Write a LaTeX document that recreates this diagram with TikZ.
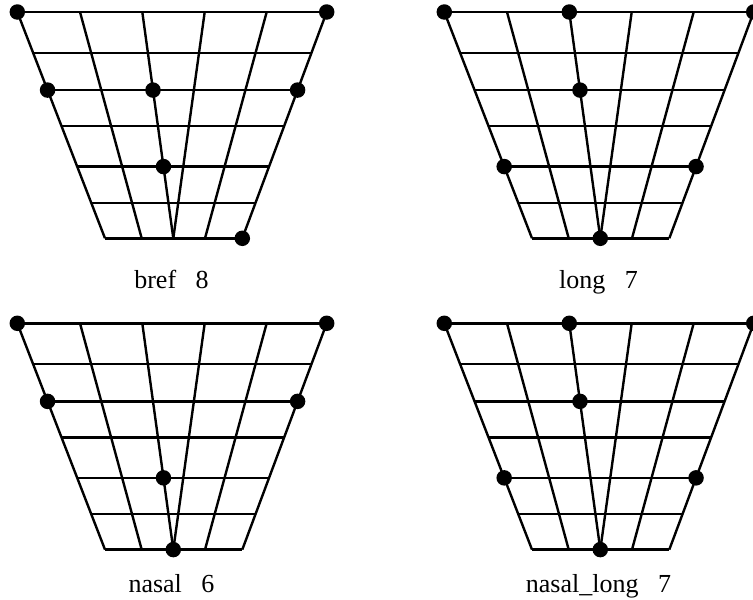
\documentclass[tikz,border=0pt]{standalone}
\usepackage{fontspec}
\setmainfont{Liberation Serif}
\usetikzlibrary{calc}
\tikzset{
  gridline/.style={line width=2.4pt},
  vdot/.style={circle, fill=black, minimum size=15.5pt, inner sep=0pt},
  lab/.style={anchor=base, inner sep=0pt, font=\fontsize{26}{30}\selectfont}
}
% #1 dx, #2 dy, #3 prefix, #4 label, #5 label baseline (local y)
\newcommand\vchart[5]{%
\begin{scope}[shift={(#1,#2)}]
  \foreach \c/\tx/\bx in {0/17.3/105, 1/80/141.7, 2/142.3/173.3, 3/204.7/173.3, 4/266.7/205, 5/326.7/242.3}{
    \foreach \r/\f in {0/0, 1/0.18, 2/0.345, 3/0.504, 4/0.683, 5/0.843, 6/1}{
      \coordinate (#3-\c-\r) at ($(\tx,12)!\f!(\bx,238.3)$);
    }
  }
  \foreach \c in {0,...,5}{\draw[gridline] (#3-\c-0) -- (#3-\c-6);}
  \foreach \r in {0,...,6}{\draw[gridline] (#3-0-\r) -- (#3-5-\r);}
  \node[lab] (#3-lab) at (171.5,#5) {#4};
\end{scope}}
\begin{document}
\begin{tikzpicture}[x=1pt,y=-1pt]
\useasboundingbox (0,0) rectangle (753,600);
\vchart{0}{0}{A}{bref~~~8}{288.3}
\vchart{427}{0}{B}{long~~~7}{288.3}
\vchart{0}{311.3}{C}{nasal~~~6}{281}
\vchart{427}{311.3}{D}{nasal\_long~~~7}{281}
% dots: bref 8
\foreach \p in {0-0,5-0,0-2,2-2,5-2,2-4,5-6}{\node[vdot] (dA\p) at (A-\p) {};}
% dots: long 7
\foreach \p in {0-0,2-0,5-0,2-2,0-4,5-4,2-6}{\node[vdot] (dB\p) at (B-\p) {};}
% dots: nasal 6
\foreach \p in {0-0,5-0,0-2,5-2,2-4,2-6}{\node[vdot] (dC\p) at (C-\p) {};}
% dots: nasal_long 7
\foreach \p in {0-0,2-0,5-0,2-2,0-4,5-4,2-6}{\node[vdot] (dD\p) at (D-\p) {};}
\end{tikzpicture}
\end{document}
